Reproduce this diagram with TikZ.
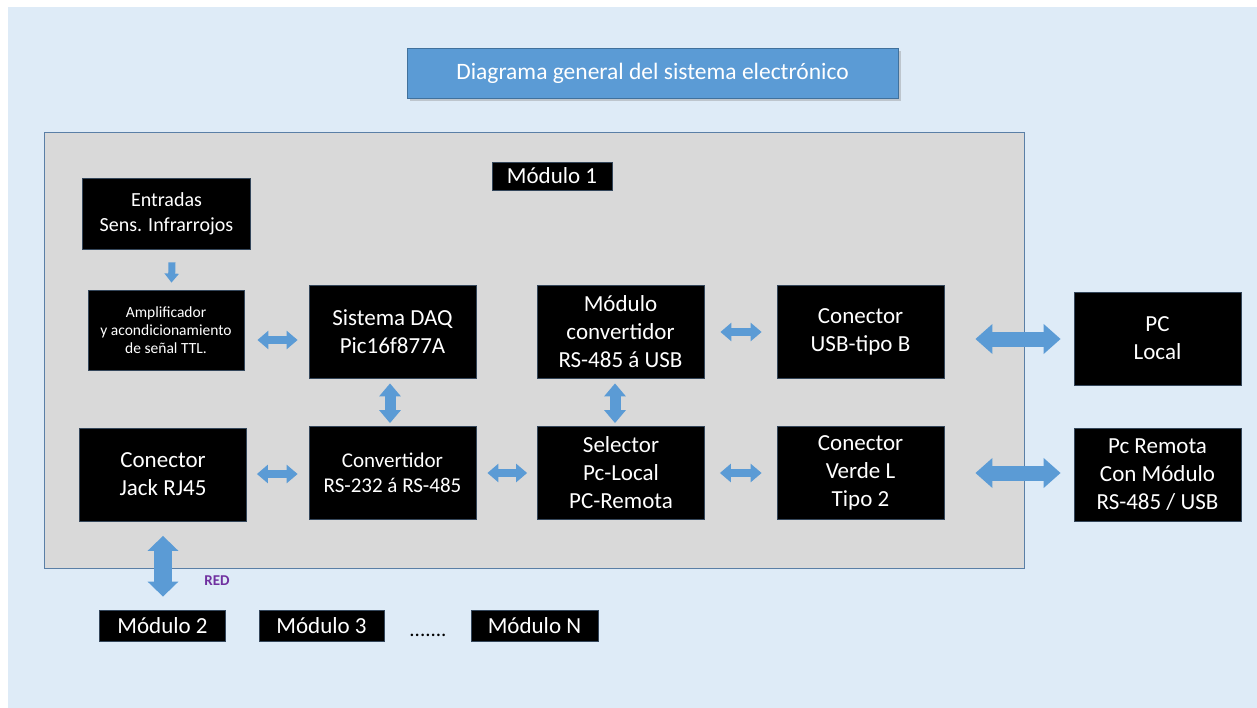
\documentclass[tikz,border=0pt]{standalone}
\usepackage{fontspec}
\setmainfont{Carlito}
\usetikzlibrary{arrows.meta,calc,shadows}

\definecolor{bgblue}{HTML}{DEEBF7}
\definecolor{panelgray}{HTML}{D9D9D9}
\definecolor{paneledge}{HTML}{5A7FA6}
\definecolor{titlefill}{HTML}{5B9BD5}
\definecolor{titleedge}{HTML}{41719C}
\definecolor{arrowblue}{HTML}{5B9BD5}
\definecolor{boxedge}{HTML}{34465A}
\definecolor{netpurple}{HTML}{7030A0}

\begin{document}
\begin{tikzpicture}[x=1pt,y=-1pt,
  blk/.style={fill=black, draw=boxedge, line width=0.8pt, text=white,
    align=center, inner sep=0pt, font=\fontsize{23}{28}\selectfont},
  bigbox/.style={blk, minimum width=167pt, minimum height=93pt},
  tag/.style={blk, minimum width=126pt, minimum height=31pt},
  dblarrow/.style n args={3}{draw=arrowblue, line width=#1,
    arrows={Triangle[width=#2,length=#3]-Triangle[width=#2,length=#3]}},
  onearrow/.style n args={3}{draw=arrowblue, line width=#1,
    arrows={-Triangle[width=#2,length=#3]}},
]
% page and backdrop
\fill[white] (0,0) rectangle (1257,708);
\useasboundingbox (0,0) rectangle (1257,708);
\fill[bgblue] (8,7) rectangle (1257,708);

% title banner
\node[fill=titlefill, draw=titleedge, line width=0.8pt, text=white,
  minimum width=491pt, minimum height=50pt, inner sep=0pt,
  drop shadow={shadow xshift=3pt, shadow yshift=-3pt, opacity=0.35},
  font=\fontsize{23.5}{28}\selectfont] (title) at (652.5,73)
  {Diagrama general del sistema electrónico};

% module 1 panel
\node[fill=panelgray, draw=paneledge, line width=0.9pt,
  minimum width=980pt, minimum height=436pt, inner sep=0pt] (panel) at (534,350) {};
\node[tag, minimum width=120pt, minimum height=28pt] (mod1) at (552,176) {Módulo 1};

% blocks inside the module
\node[blk, minimum width=168pt, minimum height=71pt,
  font=\fontsize{20}{25}\selectfont] (ent) at (166.5,213.5) {Entradas\\Sens. Infrarrojos};
\node[blk, minimum width=156pt, minimum height=80pt,
  font=\fontsize{15.5}{18}\selectfont] (amp) at (166,330)
  {Amplificador\\y acondicionamiento\\de señal TTL.};
\node[bigbox] (daq) at (392.5,331.5) {Sistema DAQ\\Pic16f877A};
\node[bigbox] (mconv) at (620.5,331.5) {Módulo\\convertidor\\RS-485 á USB};
\node[bigbox] (usb) at (860.5,331.5) {Conector\\USB-tipo B};
\node[bigbox] (jack) at (163,474.5) {Conector\\Jack RJ45};
\node[bigbox, font=\fontsize{21}{25}\selectfont] (conv) at (392.5,473) {Convertidor\\RS-232 á RS-485};
\node[bigbox] (sel) at (621,473) {Selector\\Pc-Local\\PC-Remota};
\node[bigbox] (verde) at (860.5,473) {Conector\\Verde L\\Tipo 2};

% external computers
\node[bigbox] (pcloc) at (1157.5,338.5) {PC\\Local};
\node[bigbox] (pcrem) at (1157.5,474.5) {Pc Remota\\Con Módulo\\RS-485 / USB};

% other modules on the network
\node[tag] (m2) at (162.5,626) {Módulo 2};
\node[tag, minimum width=125pt] (m3) at (321.5,626) {Módulo 3};
\node[anchor=base, inner sep=0pt, font=\fontsize{21}{25}\selectfont] (dots) at (428,636) {.......};
\node[tag, minimum width=127pt] (mN) at (534.5,626) {Módulo N};
\node[text=netpurple, inner sep=0pt, font=\bfseries\fontsize{15}{17}\selectfont] (red) at (217,581) {RED};

% block arrows between the blocks
\draw[onearrow={7pt}{14pt}{9pt}] ($(ent.south)+(5.5,13)$) -- ($(amp.north)+(5.5,-7)$);
\draw[dblarrow={8pt}{18pt}{11pt}] ($(amp.east)+(13,10)$) -- ($(daq.west)+(-11,8.5)$);
\draw[dblarrow={11pt}{21pt}{13pt}] ($(daq.south)+(-2.5,5)$) -- ($(conv.north)+(-2.5,-3)$);
\draw[dblarrow={11pt}{21pt}{13pt}] ($(mconv.south)+(-5.5,5)$) -- ($(sel.north)+(-6,-3)$);
\draw[dblarrow={8pt}{18pt}{11pt}] ($(mconv.east)+(16,0.5)$) -- ($(usb.west)+(-15,0.5)$);
\draw[dblarrow={15pt}{29pt}{17pt}] ($(usb.east)+(31,7.5)$) -- ($(pcloc.west)+(-13,0.5)$);
\draw[dblarrow={8pt}{18pt}{11pt}] ($(jack.east)+(10,-0.5)$) -- ($(conv.west)+(-11,1)$);
\draw[dblarrow={8pt}{18pt}{11pt}] ($(conv.east)+(11,0)$) -- ($(sel.west)+(-10,0)$);
\draw[dblarrow={8pt}{18pt}{11pt}] ($(sel.east)+(15,0)$) -- ($(verde.west)+(-15,0)$);
\draw[dblarrow={15pt}{29pt}{17pt}] ($(verde.east)+(31,0)$) -- ($(pcrem.west)+(-13,-1.5)$);
\draw[dblarrow={18pt}{30pt}{15pt}] ($(jack.south)+(0,14.5)$) -- ($(m2.north)+(0.5,-13.5)$);
\end{tikzpicture}
\end{document}
